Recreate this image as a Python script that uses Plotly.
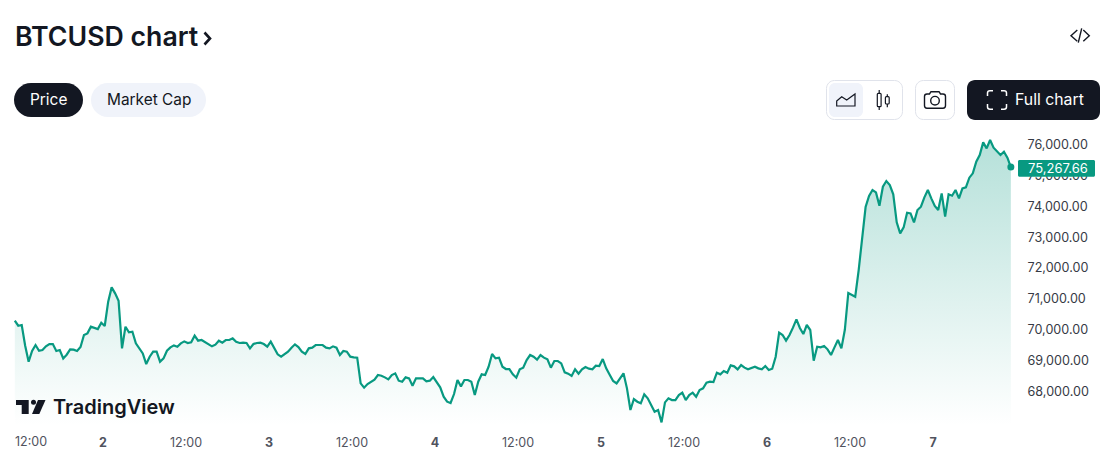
import pandas as pd
import plotly.graph_objects as go

W = 1112
H = 471

# half hour closes, from Nov 1 11:15 on
prices = [
    70293, 70131, 70153, 69483, 68965, 69311, 69505, 69321, 69343, 69462,
    69537, 69537, 69311, 69343, 69073, 69192, 69365, 69354, 69311, 69440,
    69829, 69883, 70099, 70067, 70023, 70229, 70121, 70909, 71373, 71179,
    70941, 69397, 70099, 69915, 69937, 69559, 69397, 69235, 68889, 69127,
    69289, 69289, 68965, 69073, 69321, 69429, 69494, 69451, 69559, 69624,
    69571, 69592, 69808, 69646, 69668, 69603, 69538, 69463, 69517, 69646,
    69582, 69668, 69668, 69722, 69614, 69571, 69582, 69571, 69398, 69538,
    69571, 69582, 69538, 69452, 69614, 69398, 69204, 69128, 69214, 69290,
    69420, 69528, 69441, 69290, 69214, 69398, 69420, 69506, 69506, 69506,
    69420, 69398, 69463, 69420, 69182, 69312, 69290, 69128, 69106, 69096,
    68264, 68124, 68242, 68318, 68383, 68534, 68512, 68458, 68394, 68534,
    68588, 68350, 68318, 68458, 68426, 68188, 68426, 68426, 68426, 68329,
    68350, 68469, 68318, 68134, 67832, 67670, 67627, 67918, 68372, 68167,
    68372, 68372, 68318, 67886, 68318, 68556, 68534, 68804, 69214, 69074,
    69096, 68804, 68728, 68728, 68556, 68448, 68718, 68772, 69020, 69182,
    69128, 69031, 69182, 69096, 69042, 68772, 68988, 68988, 68912, 68620,
    68577, 68502, 68718, 68577, 68718, 68793, 68739, 68718, 68836, 68826,
    69052, 68750, 68545, 68340, 68264, 68426, 68588, 68102, 67400, 67756,
    67670, 67616, 67908, 67778, 67584, 67346, 67400, 67000, 67648, 67778,
    67724, 67724, 67886, 67962, 67724, 67886, 67962, 67832, 68048, 68102,
    68286, 68318, 68307, 68610, 68556, 68664, 68610, 68847, 68815, 68718,
    68858, 68772, 68718, 68750, 68804, 68750, 68718, 68826, 68696, 68739,
    69128, 69906, 69830, 69646, 69830, 70068, 70338, 70057, 69862, 70154,
    69992, 68998, 69452, 69430, 69474, 69366, 69182, 69430, 69668, 69398,
    70000, 71190, 71125, 71070, 71935, 72906, 73975, 74332, 74526, 74450,
    74018, 74634, 74818, 74688, 74386, 73478, 73122, 73316, 73792, 73770,
    73478, 73878, 73986, 74288, 74526, 74256, 74008, 73878, 74418, 73662,
    74386, 74342, 74526, 74256, 74580, 74612, 74926, 75066, 75444, 75660,
    76070, 75876, 76146, 75898, 75790, 75660, 75768, 75574, 75267.66,
]
times = pd.date_range("2024-11-01 11:15", periods=len(prices), freq="30min")

y_ticks = [68000, 69000, 70000, 71000, 72000, 73000, 74000, 75000, 76000]
tick_dates = ["2024-11-02 00:00", "2024-11-02 12:00", "2024-11-03 00:00", "2024-11-03 12:00",
              "2024-11-04 00:00", "2024-11-04 12:00", "2024-11-05 00:00", "2024-11-05 12:00",
              "2024-11-06 00:00", "2024-11-06 12:00", "2024-11-07 00:00"]
tick_labels = ["<b>2</b>", "12:00", "<b>3</b>", "12:00", "<b>4</b>", "12:00",
               "<b>5</b>", "12:00", "<b>6</b>", "12:00", "<b>7</b>"]

GREEN = "#089981"
INK = "#131722"
PALE = "#F0F3FA"
EDGE = "#E0E3EB"
FONT = "Inter"


def fx(x):
    return x / W


def fy(y):
    return 1 - y / H


def pp(path):
    # pixel path to paper path, numbers alternate x then y
    out = []
    is_x = True
    for tok in path.split():
        if tok.isalpha():
            out.append(tok)
        else:
            out.append(str(fx(float(tok)) if is_x else fy(float(tok))))
            is_x = not is_x
    return " ".join(out)


def round_rect(x0, y0, x1, y1, r):
    k = r * 0.45
    return (f"M {x0 + r} {y0} L {x1 - r} {y0} C {x1 - k} {y0} {x1} {y0 + k} {x1} {y0 + r} "
            f"L {x1} {y1 - r} C {x1} {y1 - k} {x1 - k} {y1} {x1 - r} {y1} "
            f"L {x0 + r} {y1} C {x0 + k} {y1} {x0} {y1 - k} {x0} {y1 - r} "
            f"L {x0} {y0 + r} C {x0} {y0 + k} {x0 + k} {y0} {x0 + r} {y0} Z")


def add_path(path, fill=None, line=None, width=1.5, layer="above"):
    shapes.append(dict(type="path", xref="paper", yref="paper", path=pp(path), layer=layer,
                       fillcolor=fill if fill else "rgba(0,0,0,0)",
                       line=dict(color=line if line else "rgba(0,0,0,0)", width=width if line else 0)))


def add_text(text, x, y, size, color=INK, anchor="center", weight=400):
    notes.append(dict(text=text, x=fx(x), y=fy(y), xref="paper", yref="paper", showarrow=False,
                      xanchor=anchor, yanchor="middle", borderpad=0,
                      font=dict(family=FONT, size=size, color=color, weight=weight)))


shapes = []
notes = []

# header
add_text("BTCUSD chart", 14, 36.5, 26.7, anchor="left", weight=600)
add_path("M 204.5 32.5 L 210 38.5 L 204.5 44.5", line=INK, width=2.6)
add_path("M 1077.3 30 L 1071 35.7 L 1077.3 41.3", line=INK, width=1.4)
add_path("M 1081.7 28.3 L 1078.3 42.7", line=INK, width=1.4)
add_path("M 1083.3 30 L 1089.3 35.7 L 1083.3 41.3", line=INK, width=1.4)

# pills
add_path(round_rect(14, 83, 83, 117, 17), fill=INK)
add_text("Price", 48.5, 100, 15.4, color="#FFFFFF")
add_path(round_rect(91, 83, 206, 117, 17), fill=PALE)
add_text("Market Cap", 148.5, 100, 15.4)

# chart type switch
add_path(round_rect(826.5, 80.5, 902.5, 119.5, 8), line=EDGE, width=1)
add_path(round_rect(829, 83, 863, 117, 6), fill=PALE)
add_path("M 836.7 101 L 841.7 96.7 L 846.7 100 L 855 94 L 855 106 L 836.7 106 Z", line=INK, width=1.2)
add_path("M 879.2 90 L 879.2 93.3 M 879.2 106.7 L 879.2 110", line=INK, width=1.2)
add_path(round_rect(877.3, 93.3, 881.1, 106.7, 1), line=INK, width=1.2)
add_path("M 887.3 94.3 L 887.3 96.7 M 887.3 104 L 887.3 107.3", line=INK, width=1.2)
add_path(round_rect(885.4, 96.7, 889.2, 104, 1), line=INK, width=1.2)

# camera button
add_path(round_rect(915.5, 80.5, 954.5, 119.5, 8), line=EDGE, width=1)
add_path("M 927 94 L 929.5 94 L 931 91.7 L 939 91.7 L 940.5 94 L 943 94 C 944.8 94 945.5 95 945.5 96.5 "
         "L 945.5 105.5 C 945.5 107.5 944.8 108.2 943 108.2 L 927 108.2 C 925.2 108.2 924.5 107.5 924.5 105.5 "
         "L 924.5 96.5 C 924.5 95 925.2 94 927 94 Z", line=INK, width=1.4)
shapes.append(dict(type="circle", xref="paper", yref="paper", layer="above",
                   x0=fx(930.7), x1=fx(939.3), y0=fy(105), y1=fy(96.4),
                   line=dict(color=INK, width=1.4)))

# full chart button
add_path(round_rect(967, 80, 1100, 120, 8), fill=INK)
add_path("M 987.5 96 L 987.5 93 C 987.5 91.5 988.5 90.8 990 90.8 L 993 90.8", line="#FFFFFF", width=1.5)
add_path("M 1001 90.8 L 1004 90.8 C 1005.5 90.8 1006.5 91.5 1006.5 93 L 1006.5 96", line="#FFFFFF", width=1.5)
add_path("M 1006.5 104 L 1006.5 107 C 1006.5 108.5 1005.5 109.2 1004 109.2 L 1001 109.2", line="#FFFFFF", width=1.5)
add_path("M 993 109.2 L 990 109.2 C 988.5 109.2 987.5 108.5 987.5 107 L 987.5 104", line="#FFFFFF", width=1.5)
add_text("Full chart", 1049.5, 100, 15.8, color="#FFFFFF")

# last price tag, sits on top of the axis label
add_path(round_rect(1018, 160, 1095, 176.7, 1.5), fill=GREEN)
add_text(f"{prices[-1]:,.2f}", 1058, 168.4, 13, color="#FFFFFF")

# tradingview mark
add_path("M 16 400 L 28.7 400 L 28.7 414 L 21.7 414 L 21.7 405 L 16 405 Z", fill=INK)
add_path("M 38 400 L 45.5 400 L 39.3 414 L 32 414 Z", fill=INK)
shapes.append(dict(type="circle", xref="paper", yref="paper", layer="above", fillcolor=INK,
                   x0=fx(31), x1=fx(36), y0=fy(404.8), y1=fy(399.8), line=dict(width=0)))
add_text("TradingView", 52, 407, 20, anchor="left", weight=600)

# first time label is pushed inside the pane
add_text("12:00", 31, 441, 12.5, color="#50535E")

fig = go.Figure()
fig.add_trace(go.Scatter(
    x=times, y=prices, mode="lines", fill="tozeroy",
    line=dict(color=GREEN, width=2.2),
    fillgradient=dict(type="vertical", start=66900, stop=76200,
                      colorscale=[[0, "rgba(8,153,129,0)"], [1, "rgba(8,153,129,0.30)"]]),
    hoverinfo="skip"))
fig.add_trace(go.Scatter(
    x=times[-1:], y=prices[-1:], mode="markers",
    marker=dict(color=GREEN, size=7), cliponaxis=False, hoverinfo="skip"))

fig.update_layout(
    width=W, height=H,
    margin=dict(l=0, r=0, t=0, b=0),
    paper_bgcolor="#FFFFFF", plot_bgcolor="#FFFFFF",
    showlegend=False,
    shapes=shapes, annotations=notes,
    font=dict(family=FONT, color=INK),
)
fig.update_xaxes(
    domain=[fx(14), fx(1018)],
    range=["2024-11-01 11:08", "2024-11-07 12:17"],
    tickmode="array", tickvals=tick_dates, ticktext=tick_labels,
    showgrid=False, zeroline=False, showline=False,
    ticks="outside", ticklen=3, tickcolor="rgba(0,0,0,0)",
    tickfont=dict(family=FONT, size=12.5, color="#50535E"),
)
fig.update_yaxes(
    domain=[fy(428), fy(130)],
    range=[66818, 76470],
    side="right",
    tickmode="array", tickvals=y_ticks, tickformat=",.2f",
    showgrid=False, zeroline=False, showline=False,
    ticks="outside", ticklen=6, tickcolor="rgba(0,0,0,0)",
    tickfont=dict(family=FONT, size=12.6, color="#363A45"),
)

# the page has a default body margin that would push the figure 8px in
fig.write_html("out.html", config=dict(displayModeBar=False),
               post_script="document.body.style.margin = '0';")
